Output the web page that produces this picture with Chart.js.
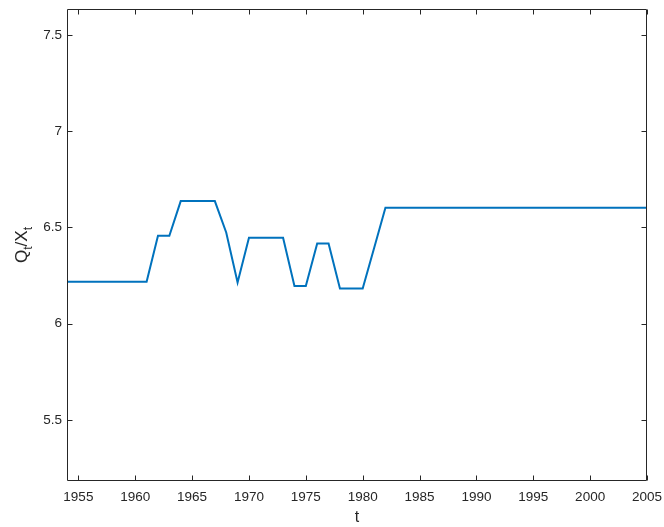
<!DOCTYPE html>
<html>
<head>
<meta charset="utf-8">
<script src="https://cdn.jsdelivr.net/npm/chart.js@4/dist/chart.umd.min.js"></script>
<style>
  html, body { margin: 0; padding: 0; background: #ffffff; }
  #wrap { width: 664px; height: 527px; position: relative; }
</style>
</head>
<body>
<div id="wrap"><canvas id="c" width="664" height="527"></canvas></div>
<script>
const years = [1954,1955,1956,1957,1958,1959,1960,1961,1962,1963,1964,1965,1966,1967,1968,1969,1970,1971,1972,1973,1974,1975,1976,1977,1978,1979,1980,1981,1982,1983,1984,1985,1986,1987,1988,1989,1990,1991,1992,1993,1994,1995,1996,1997,1998,1999,2000,2001,2002,2003,2004,2005];
const ratio = [6.218,6.218,6.218,6.218,6.218,6.218,6.218,6.218,6.457,6.457,6.637,6.637,6.637,6.637,6.474,6.214,6.447,6.447,6.447,6.447,6.196,6.196,6.417,6.417,6.183,6.183,6.183,6.392,6.602,6.602,6.602,6.602,6.602,6.602,6.602,6.602,6.602,6.602,6.602,6.602,6.602,6.602,6.602,6.602,6.602,6.602,6.602,6.602,6.602,6.602,6.602,6.602];
const xTicks = [1955,1960,1965,1970,1975,1980,1985,1990,1995,2000,2005];
const yTicks = [5.5,6,6.5,7,7.5];
const xTitle = 't';

const axisColor = '#262626';
const FONT = '"Liberation Sans", Arial, Helvetica, sans-serif';

const points = years.map((y, i) => ({x: y, y: ratio[i]}));

const boxPlugin = {
  id: 'matlabBox',
  afterDraw(chart) {
    const ctx = chart.ctx;
    const a = chart.chartArea;
    const xs = chart.scales.x, ys = chart.scales.y;
    ctx.save();
    ctx.strokeStyle = axisColor;
    ctx.lineWidth = 1;
    const L = Math.round(a.left) + 0.5, R = Math.round(a.right) - 0.5;
    const T = Math.round(a.top) + 0.5, B = Math.round(a.bottom) - 0.5;
    ctx.beginPath();
    ctx.rect(L, T, R - L, B - T);
    ctx.stroke();
    const tl = 5;
    ctx.beginPath();
    xTicks.forEach(v => {
      const px = Math.round(xs.getPixelForValue(v)) + 0.5;
      ctx.moveTo(px, B); ctx.lineTo(px, B - tl);
      ctx.moveTo(px, T); ctx.lineTo(px, T + tl);
    });
    yTicks.forEach(v => {
      const py = Math.round(ys.getPixelForValue(v)) + 0.5;
      ctx.moveTo(L, py); ctx.lineTo(L + tl, py);
      ctx.moveTo(R, py); ctx.lineTo(R - tl, py);
    });
    ctx.stroke();

    // axis titles
    ctx.fillStyle = axisColor;
    ctx.font = '16px ' + FONT;
    ctx.textAlign = 'center';
    ctx.textBaseline = 'alphabetic';
    ctx.fillText(xTitle, (a.left + a.right) / 2, 522);

    // y title: Q_t/X_t rotated
    ctx.translate(27, (a.top + a.bottom) / 2);
    ctx.rotate(-Math.PI / 2);
    const big = '17px ' + FONT, small = '12px ' + FONT;
    const parts = [['Q', big, 0], ['t', small, 5], ['/X', big, 0], ['t', small, 5]];
    let total = 0;
    parts.forEach(p => { ctx.font = p[1]; total += ctx.measureText(p[0]).width; });
    let x0 = -total / 2;
    ctx.textAlign = 'left';
    parts.forEach(p => {
      ctx.font = p[1];
      ctx.fillText(p[0], x0, p[2]);
      x0 += ctx.measureText(p[0]).width;
    });
    ctx.restore();
  }
};

new Chart(document.getElementById('c'), {
  type: 'line',
  data: {
    datasets: [{
      data: points,
      borderColor: '#0072BD',
      borderWidth: 2,
      pointRadius: 0,
      tension: 0,
      fill: false
    }]
  },
  options: {
    responsive: false,
    animation: false,
    layout: { padding: { left: 0, right: 17, top: 9, bottom: 0 } },
    plugins: { legend: { display: false }, tooltip: { enabled: false } },
    scales: {
      x: {
        type: 'linear',
        min: 1954,
        max: 2005,
        afterBuildTicks: s => { s.ticks = xTicks.map(v => ({value: v})); },
        afterFit: s => { s.height = 46; s.paddingLeft = 0; s.paddingRight = 0; },
        grid: { display: false, drawTicks: false },
        border: { display: false },
        ticks: {
          autoSkip: false, maxRotation: 0, padding: 8,
          color: axisColor, font: { family: FONT, size: 13.5 },
          callback: v => String(v)
        }
      },
      y: {
        type: 'linear',
        min: 5.183,
        max: 7.635,
        afterBuildTicks: s => { s.ticks = yTicks.map(v => ({value: v})); },
        afterFit: s => { s.width = 67; s.paddingTop = 0; s.paddingBottom = 0; },
        grid: { display: false, drawTicks: false },
        border: { display: false },
        ticks: {
          padding: 5,
          color: axisColor, font: { family: FONT, size: 13.5 },
          callback: v => String(v)
        }
      }
    }
  },
  plugins: [boxPlugin]
});
</script>
</body>
</html>
